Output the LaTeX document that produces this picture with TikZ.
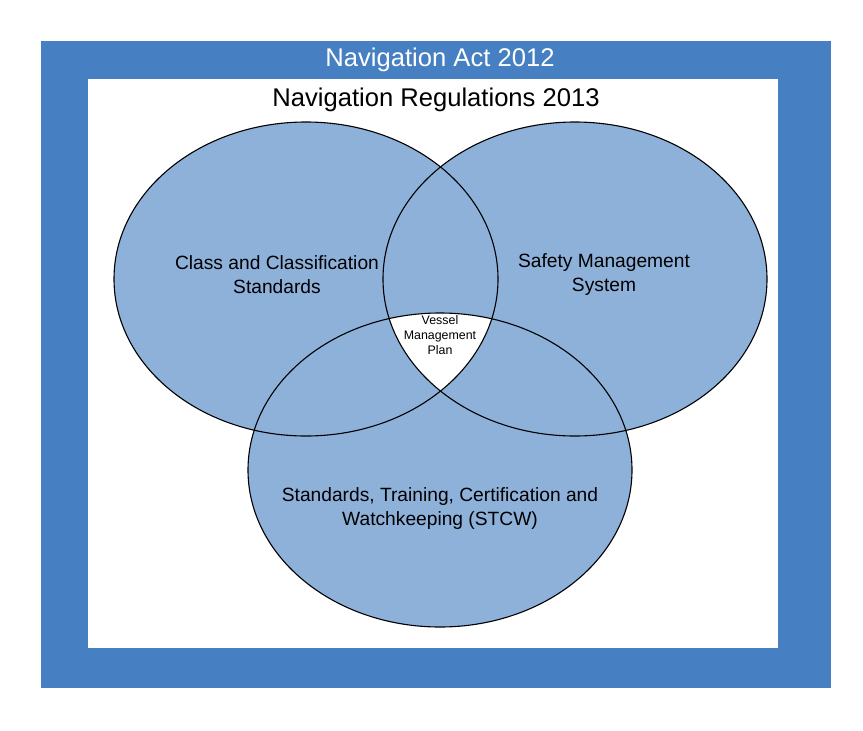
\documentclass[tikz,border=0pt]{standalone}
\usepackage{fontspec}
\setmainfont{Liberation Sans}
\definecolor{actblue}{HTML}{4680C2}
\definecolor{setfill}{HTML}{8EB1DA}
\begin{document}
\begin{tikzpicture}[x=1pt,y=-1pt,
  setline/.style={draw=black,line width=1.1pt},
  title/.style={font=\fontsize{25.6}{30}\selectfont},
  setlabel/.style={align=center,font=\fontsize{19.2}{24}\selectfont},
  smalllabel/.style={align=center,font=\fontsize{12.4}{15}\selectfont}]
\useasboundingbox (0,0) rectangle (863,731);
% frames
\fill[actblue] (41,41) rectangle (831,688);
\fill[white] (88,79) rectangle (778,648);
% ellipse centres
\coordinate (cl) at (306,279);
\coordinate (cr) at (575,279);
\coordinate (cb) at (440,470);
% ellipse fills
\fill[setfill] (cl) ellipse [x radius=192pt, y radius=157pt];
\fill[setfill] (cr) ellipse [x radius=192pt, y radius=157pt];
\fill[setfill] (cb) ellipse [x radius=192pt, y radius=157pt];
% triple intersection
\begin{scope}
  \clip (cl) ellipse [x radius=192pt, y radius=157pt];
  \clip (cr) ellipse [x radius=192pt, y radius=157pt];
  \fill[white] (cb) ellipse [x radius=192pt, y radius=157pt];
\end{scope}
% outlines
\draw[setline] (cl) ellipse [x radius=192pt, y radius=157pt];
\draw[setline] (cr) ellipse [x radius=192pt, y radius=157pt];
\draw[setline] (cb) ellipse [x radius=192pt, y radius=157pt];
% texts
\node[title,text=white] (act) at (440,60) {Navigation Act 2012};
\node[title] (regs) at (436,100) {Navigation Regulations 2013};
\node[setlabel] (class) at (277,275) {Class and Classification\\Standards};
\node[setlabel] (sms) at (604,275) {Safety Management\\System};
\node[setlabel] (stcw) at (440,509) {Standards, Training, Certification and\\Watchkeeping (STCW)};
\node[smalllabel] (vmp) at (440,335) {Vessel\\Management\\Plan};
\end{tikzpicture}
\end{document}
